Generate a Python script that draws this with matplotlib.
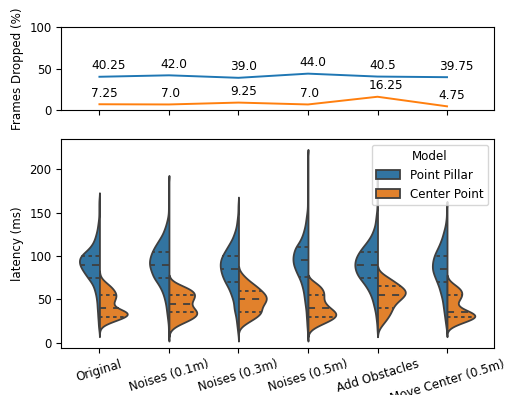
import numpy as np
import matplotlib
matplotlib.use("Agg")
import matplotlib.pyplot as plt
from matplotlib.patches import Patch

# ---------------- data ----------------
categories = ["Original", "Noises (0.1m)", "Noises (0.3m)", "Noises (0.5m)",
              "Add Obstacles", "Move Center (0.5m)"]
models = ["Point Pillar", "Center Point"]

pp_dropped = [40.25, 42.0, 39.0, 44.0, 40.5, 39.75]
cp_dropped = [7.25, 7.0, 9.25, 7.0, 16.25, 4.75]

# latency histograms: latency value (ms) and number of frames at that value
pp_original_ms = [15, 20, 25, 30, 35, 40, 45, 50, 55, 60, 65, 70, 75, 80, 85, 90, 95, 100,
                  105, 110, 115, 120, 125, 130, 135, 140, 145, 150, 155, 160, 165]
pp_original_n = [1, 2, 2, 3, 3, 4, 4, 5, 6, 8, 10, 14, 20, 25, 30, 34, 35, 33,
                 24, 16, 11, 8, 6, 4, 3, 2, 1, 1, 1, 1, 1]
cp_original_ms = [20, 25, 30, 35, 40, 45, 50, 55, 60, 65, 70, 75]
cp_original_n = [4, 24, 48, 56, 26, 22, 27, 30, 26, 20, 10, 2]

pp_noise01_ms = [10, 15, 20, 25, 30, 35, 40, 45, 50, 55, 60, 65, 70, 75, 80, 85, 90, 95,
                 100, 105, 110, 115, 120, 125, 130, 135, 140, 145, 150, 155, 160, 165,
                 170, 175, 180, 185]
pp_noise01_n = [1, 1, 1, 2, 3, 4, 5, 6, 8, 10, 13, 17, 22, 28, 31, 34, 36, 36,
                34, 31, 27, 22, 17, 12, 9, 6, 4, 2, 1, 1, 1, 1, 1, 1, 1, 1]
cp_noise01_ms = [15, 20, 25, 30, 35, 40, 45, 50, 55, 60, 65, 70]
cp_noise01_n = [3, 14, 34, 50, 55, 45, 39, 45, 49, 46, 28, 8]

pp_noise03_ms = [10, 15, 20, 25, 30, 35, 40, 45, 50, 55, 60, 65, 70, 75, 80, 85, 90, 95,
                 100, 105, 110, 115, 120, 125, 130, 135, 140, 145, 150, 155, 160]
pp_noise03_n = [1, 2, 3, 4, 5, 7, 9, 9, 11, 14, 17, 21, 26, 30, 33, 35, 36, 35,
                32, 27, 22, 17, 12, 9, 6, 4, 3, 2, 1, 1, 1]
cp_noise03_ms = [20, 25, 30, 35, 40, 45, 50, 55, 60, 65, 70, 75, 80]
cp_noise03_n = [8, 22, 37, 46, 44, 50, 56, 54, 45, 36, 24, 14, 6]

pp_noise05_ms = [10, 15, 20, 25, 30, 35, 40, 45, 50, 55, 60, 65, 70, 75, 80, 85, 90, 95,
                 100, 105, 110, 115, 120, 125, 130, 135, 140, 145, 150, 155, 160, 165,
                 170, 175, 180, 185, 190, 195, 200, 205, 210, 215]
pp_noise05_n = [1, 1, 2, 2, 3, 3, 4, 5, 6, 7, 8, 10, 12, 15, 19, 22, 25, 26,
                26, 24, 22, 16, 12, 9, 7, 5, 4, 3, 2, 1, 1, 1,
                1, 1, 1, 1, 1, 1, 1, 1, 1, 1]
cp_noise05_ms = [15, 20, 25, 30, 35, 40, 45, 50, 55, 60, 65, 70]
cp_noise05_n = [4, 18, 36, 50, 50, 38, 30, 26, 28, 27, 22, 12]

pp_obstacles_ms = [15, 20, 25, 30, 35, 40, 45, 50, 55, 60, 65, 70, 75, 80, 85, 90, 95,
                   100, 105, 110, 115, 120, 125, 130, 135, 140, 145, 150, 155, 160,
                   165, 170, 175, 180, 185, 190]
pp_obstacles_n = [1, 1, 2, 3, 4, 6, 8, 10, 13, 17, 22, 28, 35, 40, 43, 44, 43,
                  40, 35, 29, 22, 16, 11, 8, 5, 4, 3, 2, 1, 1, 1, 1, 1, 1, 1, 1]
cp_obstacles_ms = [15, 20, 25, 30, 35, 40, 45, 50, 55, 60, 65, 70, 75, 80]
cp_obstacles_n = [2, 8, 15, 21, 26, 29, 34, 44, 54, 56, 46, 34, 22, 8]

pp_move_ms = [15, 20, 25, 30, 35, 40, 45, 50, 55, 60, 65, 70, 75, 80, 85, 90, 95, 100,
              105, 110, 115, 120, 125, 130, 135, 140, 145, 150, 155]
pp_move_n = [1, 2, 3, 4, 5, 6, 7, 8, 10, 12, 14, 17, 20, 23, 25, 25, 24, 22,
             19, 15, 12, 9, 7, 5, 3, 2, 1, 1, 1]
cp_move_ms = [20, 25, 30, 35, 40, 45, 50, 55, 60, 65, 70]
cp_move_n = [12, 34, 56, 44, 22, 15, 22, 26, 26, 18, 6]

pp_latency = [(pp_original_ms, pp_original_n), (pp_noise01_ms, pp_noise01_n),
              (pp_noise03_ms, pp_noise03_n), (pp_noise05_ms, pp_noise05_n),
              (pp_obstacles_ms, pp_obstacles_n), (pp_move_ms, pp_move_n)]
cp_latency = [(cp_original_ms, cp_original_n), (cp_noise01_ms, cp_noise01_n),
              (cp_noise03_ms, cp_noise03_n), (cp_noise05_ms, cp_noise05_n),
              (cp_obstacles_ms, cp_obstacles_n), (cp_move_ms, cp_move_n)]

# ---------------- style ----------------
line_blue, line_orange = "#1f77b4", "#ff7f0e"
vio_blue, vio_orange = "#3274a1", "#e1812c"
gray = "#3f3f3f"
FS_TICK = 8.4
FS = 8.6
LW = 1.3
BW = 4.0          # kernel bandwidth (ms)
HALF = 0.4        # max half-width of a violin (category units)

fig = plt.figure(figsize=(5.08, 3.95), dpi=100)
ax1 = fig.add_axes([0.1205, 0.7208, 0.8525, 0.2108])
ax2 = fig.add_axes([0.1205, 0.1190, 0.8525, 0.5291])
xpos = np.arange(len(categories))

# ---------------- top: frames dropped ----------------
ax1.plot(xpos, pp_dropped, color=line_blue, lw=1.4)
ax1.plot(xpos, cp_dropped, color=line_orange, lw=1.4)
for i, v in enumerate(pp_dropped):
    ax1.text(i - 0.12, v + 9, str(v), fontsize=8.7)
for i, v in enumerate(cp_dropped):
    ax1.text(i - 0.12, v + 9, str(v), fontsize=8.7)
ax1.set_ylim(0, 100)
ax1.set_yticks([0, 50, 100])
ax1.set_xlim(-0.55, 5.68)
ax1.set_xticks(xpos)
ax1.set_xticklabels([])
ax1.set_ylabel("Frames Dropped (%)", fontsize=FS)
ax1.tick_params(labelsize=FS_TICK)


# ---------------- bottom: split violins ----------------
def kde(values, counts, grid):
    v = np.asarray(values, float)[:, None]
    c = np.asarray(counts, float)[:, None]
    return (c * np.exp(-0.5 * ((grid[None, :] - v) / BW) ** 2)).sum(axis=0)


for i in range(len(categories)):
    halves = []
    for (vals, cnts), side, col in ((pp_latency[i], -1, vio_blue),
                                     (cp_latency[i], 1, vio_orange)):
        grid = np.linspace(min(vals) - 2 * BW, max(vals) + 2 * BW, 400)
        dens = kde(vals, cnts, grid)
        halves.append((vals, cnts, side, col, grid, dens))
    scale = HALF / max(h[5].max() for h in halves)
    for vals, cnts, side, col, grid, dens in halves:
        w = dens * scale
        ax2.fill_betweenx(grid, i, i + side * w, facecolor=col,
                          edgecolor=gray, linewidth=LW, zorder=2)
        obs = np.repeat(vals, cnts)
        q1, q2, q3 = np.percentile(obs, [25, 50, 75])
        for q, d in ((q1, LW * 1.5), (q2, LW * 3), (q3, LW * 1.5)):
            hw = np.interp(q, grid, w)
            ax2.plot([i, i + side * hw], [q, q], color=gray, lw=LW,
                     dashes=[d, d], zorder=3)

ax2.set_xlim(-0.55, 5.68)
ax2.set_ylim(-6, 235)
ax2.set_yticks([0, 50, 100, 150, 200])
ax2.set_xticks(xpos)
ax2.set_xticklabels(categories, rotation=17, ha="center", fontsize=FS)
ax2.tick_params(axis="y", labelsize=FS_TICK)
ax2.set_ylabel("latency (ms)", fontsize=FS)

handles = [Patch(facecolor=vio_blue, edgecolor=gray, linewidth=LW),
           Patch(facecolor=vio_orange, edgecolor=gray, linewidth=LW)]
leg = ax2.legend(handles, models, title="Model", loc="upper right",
                 fontsize=FS, title_fontsize=FS)
leg.set_zorder(5)

fig.savefig("out.png", dpi=100)
